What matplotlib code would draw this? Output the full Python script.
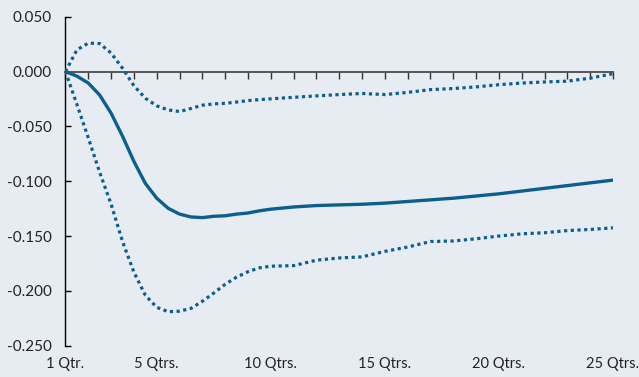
import matplotlib.pyplot as plt

# quarters (half-quarter steps early on where the curves bend most)
quarters = [1, 1.5, 2, 2.5, 3, 3.5, 4, 4.5, 5, 5.5, 6, 6.5, 7, 7.5, 8, 8.5, 9, 9.5, 10,
            11, 12, 13, 14, 15, 16, 17, 18, 19, 20, 21, 22, 23, 24, 25]

response = [0.000, -0.0042, -0.0105, -0.0215, -0.038, -0.059, -0.082, -0.102, -0.1155, -0.1247,
            -0.130, -0.1326, -0.1332, -0.132, -0.1315, -0.130, -0.129, -0.127, -0.1255,
            -0.1235, -0.1222, -0.1216, -0.121, -0.120, -0.1185, -0.117, -0.1155, -0.1135,
            -0.1115, -0.109, -0.1065, -0.104, -0.1015, -0.099]

upper = [0.000, 0.0198, 0.0259, 0.0255, 0.0168, 0.003, -0.013, -0.0243, -0.0313, -0.035,
         -0.0365, -0.0337, -0.0307, -0.0295, -0.029, -0.0278, -0.0265, -0.0256, -0.0249,
         -0.0235, -0.0222, -0.021, -0.020, -0.021, -0.019, -0.0165, -0.0155, -0.014,
         -0.012, -0.0105, -0.0095, -0.0088, -0.006, -0.002]

lower = [0.000, -0.030, -0.0605, -0.092, -0.121, -0.155, -0.183, -0.204, -0.215, -0.219,
         -0.2185, -0.216, -0.2095, -0.202, -0.194, -0.1875, -0.1825, -0.179, -0.1775,
         -0.177, -0.172, -0.170, -0.169, -0.164, -0.160, -0.155, -0.1545, -0.1525,
         -0.150, -0.148, -0.147, -0.145, -0.144, -0.1425]

xtick_pos = [1, 5, 10, 15, 20, 25]
xtick_labels = ["1 Qtr.", "5 Qtrs.", "10 Qtrs.", "15 Qtrs.", "20 Qtrs.", "25 Qtrs."]
ytick_pos = [0.05, 0.0, -0.05, -0.10, -0.15, -0.20, -0.25]

bg = "#E7ECF3"
line_col = "#0B5F8E"

plt.rcParams["font.family"] = ["Lato", "DejaVu Sans"]
plt.rcParams["axes.unicode_minus"] = False

fig = plt.figure(figsize=(6.39, 3.77), dpi=100, facecolor=bg)
ax = fig.add_axes([0.1025, 0.083, 0.8568, 0.8727])
ax.set_facecolor(bg)

ax.plot(quarters, response, color=line_col, linewidth=2.4, solid_capstyle="round", zorder=3)
ax.plot(quarters, upper, color=line_col, linewidth=2.3, linestyle=(0, (1, 1.1)), zorder=3)
ax.plot(quarters, lower, color=line_col, linewidth=2.3, linestyle=(0, (1, 1.1)), zorder=3)

ax.set_xlim(1, 25)
ax.set_ylim(-0.25, 0.05)

# y axis: left spine, inward ticks
ax.spines["top"].set_visible(False)
ax.spines["right"].set_visible(False)
ax.spines["left"].set_color("black")
ax.spines["left"].set_linewidth(1.0)
ax.set_yticks(ytick_pos)
ax.set_yticklabels([f"{v:.3f}" for v in ytick_pos])
ax.tick_params(axis="y", direction="in", length=4, width=1.0, pad=10,
               labelsize=11, labelcolor="#222222")

# x axis line sits at zero with a tick every quarter
ax.spines["bottom"].set_position(("data", 0))
ax.spines["bottom"].set_color("#555555")
ax.spines["bottom"].set_linewidth(1.4)
ax.set_xticks(range(1, 26))
ax.tick_params(axis="x", direction="out", length=5, width=1.0, color="#333333",
               labelbottom=False)

# labels along the bottom of the plot
sec = ax.secondary_xaxis("bottom")
sec.spines["bottom"].set_visible(False)
sec.set_xticks(xtick_pos)
sec.set_xticklabels(xtick_labels)
sec.tick_params(length=0, pad=8, labelsize=10.5, labelcolor="#222222")

fig.savefig("out.png", dpi=100, facecolor=bg)
